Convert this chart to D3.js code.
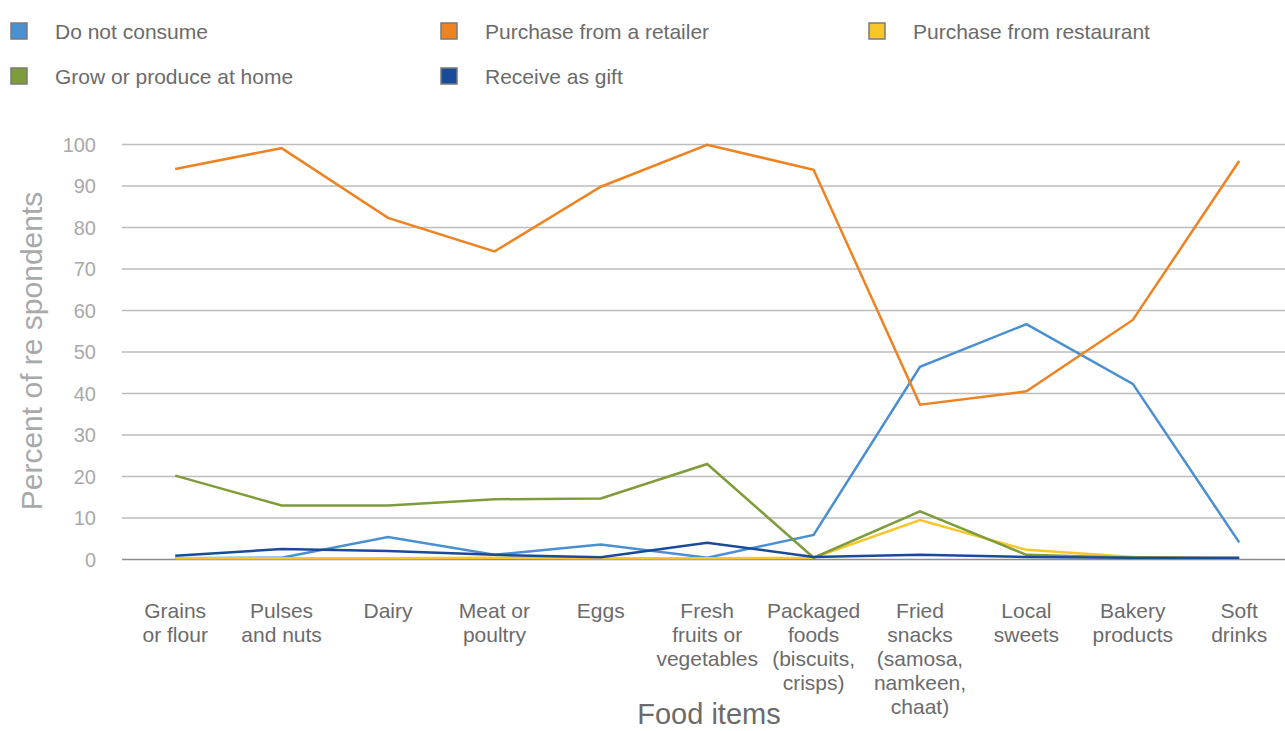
<!DOCTYPE html>
<html>
<head>
<meta charset="utf-8">
<script src="https://cdn.jsdelivr.net/npm/d3@7"></script>
<style>
  html, body { margin: 0; padding: 0; background: #fff; }
  svg { display: block; font-family: "Liberation Sans", Arial, Helvetica, sans-serif; }
</style>
</head>
<body>
<svg id="chart" width="1285" height="731"></svg>
<script>
// Food items (x-axis categories); each label is split into lines
const categories = [
  ["Grains", "or flour"],
  ["Pulses", "and nuts"],
  ["Dairy"],
  ["Meat or", "poultry"],
  ["Eggs"],
  ["Fresh", "fruits or", "vegetables"],
  ["Packaged", "foods", "(biscuits,", "crisps)"],
  ["Fried", "snacks", "(samosa,", "namkeen,", "chaat)"],
  ["Local", "sweets"],
  ["Bakery", "products"],
  ["Soft", "drinks"]
];

// Percent of respondents for each source
const doNotConsume       = [0.2, 0.3, 5.3, 1.0, 3.5, 0.3, 5.8, 46.3, 56.6, 42.2, 4.0];
const purchaseRetailer   = [94.0, 99.0, 82.2, 74.1, 89.7, 99.8, 93.8, 37.2, 40.4, 57.6, 95.9];
const purchaseRestaurant = [0.2, 0.2, 0.2, 0.3, 0.2, 0.2, 0.3, 9.4, 2.2, 0.5, 0.2];
const growAtHome         = [20.1, 12.9, 12.9, 14.4, 14.6, 22.9, 0.3, 11.5, 1.0, 0.3, 0.1];
const receiveAsGift      = [0.8, 2.4, 1.9, 1.0, 0.4, 3.9, 0.5, 1.0, 0.5, 0.3, 0.3];

const yTicks = [0, 10, 20, 30, 40, 50, 60, 70, 80, 90, 100];

const series = [
  { name: "Do not consume",            values: doNotConsume,       color: "#4a90d0" },
  { name: "Purchase from a retailer",  values: purchaseRetailer,   color: "#ee8322" },
  { name: "Purchase from restaurant",  values: purchaseRestaurant, color: "#f7c62a" },
  { name: "Grow or produce at home",   values: growAtHome,         color: "#7f9c3a" },
  { name: "Receive as gift",           values: receiveAsGift,      color: "#1a4a9a" }
];

const svg = d3.select("#chart");
const W = 1285;
const plotLeft = 122, plotTop = 144, plotBottom = 559;

const x = d3.scaleBand()
  .domain(d3.range(categories.length))
  .range([plotLeft, plotLeft + 106.4 * categories.length])
  .padding(0);
const xc = i => x(i) + x.bandwidth() / 2;

const y = d3.scaleLinear().domain([0, 100]).range([plotBottom, plotTop]);

// Horizontal gridlines and y tick labels
const yAxis = d3.axisLeft(y).tickValues(yTicks).tickSize(0).tickPadding(0);
const gy = svg.append("g").attr("transform", `translate(${plotLeft},0)`).call(yAxis);
gy.select(".domain").remove();
gy.selectAll(".tick line")
  .attr("x2", W - plotLeft)
  .attr("stroke", d => d === 0 ? "#8c8c8c" : "#bdbdbd")
  .attr("stroke-width", 1.6);
gy.selectAll(".tick text")
  .attr("x", -26)
  .attr("dy", "0.36em")
  .attr("fill", "#a9a9a9")
  .style("font-size", "20px")
  .style("font-family", "'Liberation Sans', Arial, sans-serif");

// Y-axis title
svg.append("text")
  .attr("transform", `translate(42,351) rotate(-90)`)
  .attr("text-anchor", "middle")
  .attr("fill", "#a9a9a9")
  .style("font-size", "30px")
  .text("Percent of re spondents");

// X category labels
const xLab = svg.append("g");
categories.forEach((lines, i) => {
  const t = xLab.append("text")
    .attr("x", xc(i))
    .attr("y", 618)
    .attr("text-anchor", "middle")
    .attr("fill", "#6b6b6b")
    .style("font-size", "21px");
  lines.forEach((ln, k) => {
    t.append("tspan").attr("x", xc(i)).attr("dy", k === 0 ? 0 : 24).text(ln);
  });
});

// X-axis title
svg.append("text")
  .attr("x", 709)
  .attr("y", 724)
  .attr("text-anchor", "middle")
  .attr("fill", "#6b6b6b")
  .style("font-size", "29px")
  .text("Food items");

// Series lines
const line = d3.line().x((d, i) => xc(i)).y(d => y(d));
svg.append("g").selectAll("path")
  .data(series)
  .join("path")
  .attr("d", d => line(d.values))
  .attr("fill", "none")
  .attr("stroke", d => d.color)
  .attr("stroke-width", 2.5)
  .attr("stroke-linejoin", "miter");

// Legend
const legendPos = [
  [10, 31], [440, 31], [868, 31],
  [10, 76], [440, 76]
];
const legend = svg.append("g");
series.forEach((s, i) => {
  const [lx, ly] = legendPos[i];
  legend.append("rect")
    .attr("x", lx + 1).attr("y", ly - 8)
    .attr("width", 16).attr("height", 16)
    .attr("fill", s.color)
    .attr("stroke", "#7a7a7a")
    .attr("stroke-width", 1.5);
  legend.append("text")
    .attr("x", lx + 45).attr("y", ly)
    .attr("dy", "0.36em")
    .attr("fill", "#6b6b6b")
    .style("font-size", "21px")
    .text(s.name);
});
</script>
</body>
</html>
